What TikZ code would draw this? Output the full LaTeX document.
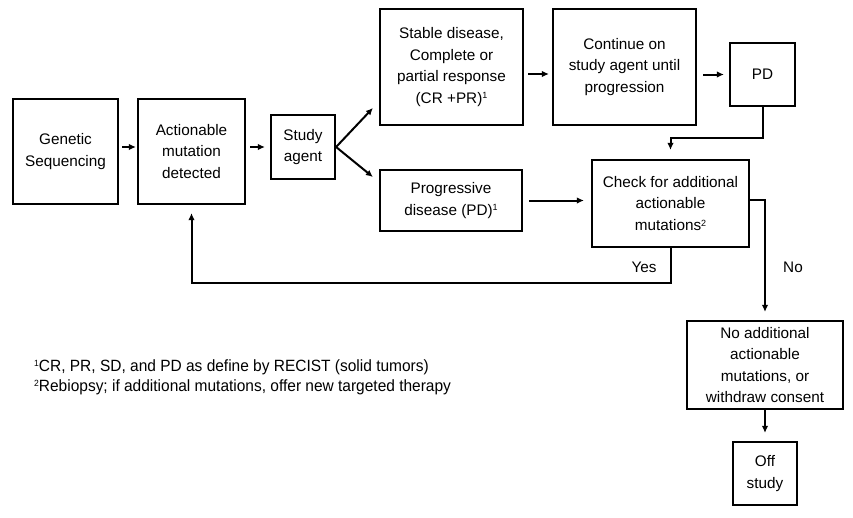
\documentclass[tikz,border=0pt]{standalone}
\usepackage{fontspec}
\setmainfont{Liberation Sans}
\newfontfamily\narrowfont[FakeStretch=0.95]{Liberation Sans}
\usetikzlibrary{arrows.meta,calc}
\newcommand{\supmark}[1]{\raisebox{0.55ex}{\fontsize{9}{9}\selectfont #1}}
\begin{document}
\begin{tikzpicture}[x=1pt,y=-1pt,
  box/.style={draw, line width=2.2pt, align=center, inner sep=0pt,
    font=\fontsize{15.3}{21.5}\selectfont},
  conn/.style={line width=2pt, -{Latex[length=7pt,width=6.5pt]}},
  lbl/.style={font=\fontsize{15.3}{18}\selectfont, inner sep=0pt},
  foot/.style={font=\narrowfont\fontsize{16.3}{20}\selectfont, inner sep=0pt, anchor=west, align=left}]
\useasboundingbox (0,0) rectangle (853,517);

\node[box, minimum width=105pt, minimum height=105pt] (gen) at (65.5,151.5) {Genetic\\Sequencing};
\node[box, minimum width=107pt, minimum height=105pt] (act) at (191.5,151.5) {Actionable\\mutation\\detected};
\node[box, minimum width=64pt, minimum height=64pt] (study) at (303,147) {Study\\agent};
\node[box, minimum width=143pt, minimum height=116pt] (stable) at (451.5,67) {Stable disease,\\Complete or\\partial response\\(CR +PR)\supmark{1}};
\node[box, minimum width=142pt, minimum height=61pt] (prog) at (451,200.5) {Progressive\\disease (PD)\supmark{1}};
\node[box, minimum width=143pt, minimum height=116pt] (cont) at (624.5,67) {Continue on\\study agent until\\progression};
\node[box, minimum width=65pt, minimum height=63pt] (pd) at (762.5,74.5) {PD};
\node[box, minimum width=157pt, minimum height=87pt] (check) at (670.5,203.5) {Check for additional\\actionable\\mutations\supmark{2}};
\node[box, minimum width=156pt, minimum height=88pt] (noadd) at (765,365) {No additional\\actionable\\mutations, or\\withdraw consent};
\node[box, minimum width=64pt, minimum height=63pt] (off) at (765,473.5) {Off\\study};

% horizontal flow
\draw[conn] ([shift={(3,-4.5)}]gen.east) -- ([shift={(-1,-4.5)}]act.west);
\draw[conn] ([shift={(4,-4.5)}]act.east) -- ([shift={(-5,0)}]study.west);
\draw[conn] (study.east) -- ([shift={(-6,41)}]stable.west);
\draw[conn] (study.east) -- ([shift={(-6,-23.5)}]prog.west);
\draw[conn] ([shift={(4,7)}]stable.east) -- ([shift={(-3,7)}]cont.west);
\draw[conn] ([shift={(6,0)}]cont.east |- pd.west) -- ([shift={(-5,0)}]pd.west);
\draw[conn] ([shift={(6,0)}]prog.east) -- ([shift={(-7,0)}]check.west |- prog.east);
\draw[conn] (pd.south) -- ++(0,31) -| ([shift={(0,-9)}]check.north);

% Yes / No branches
\draw[conn] (check.south) -- ++(0,35) coordinate (yc) -| ([shift={(0,8)}]act.south);
\draw[conn] ([shift={(0,-3.5)}]check.east) -| ([shift={(0,-8)}]noadd.north);
\draw[conn] (noadd.south) -- ([shift={(0,-8)}]off.north);

\node[lbl] (yes) at (644,267) {Yes};
\node[lbl] (no) at (793,267) {No};

\node[foot] (f1) at (34,367) {\supmark{1}CR, PR, SD, and PD as define by RECIST (solid tumors)};
\node[foot] (f2) at (34,387) {\supmark{2}Rebiopsy; if additional mutations, offer new targeted therapy};
\end{tikzpicture}
\end{document}
